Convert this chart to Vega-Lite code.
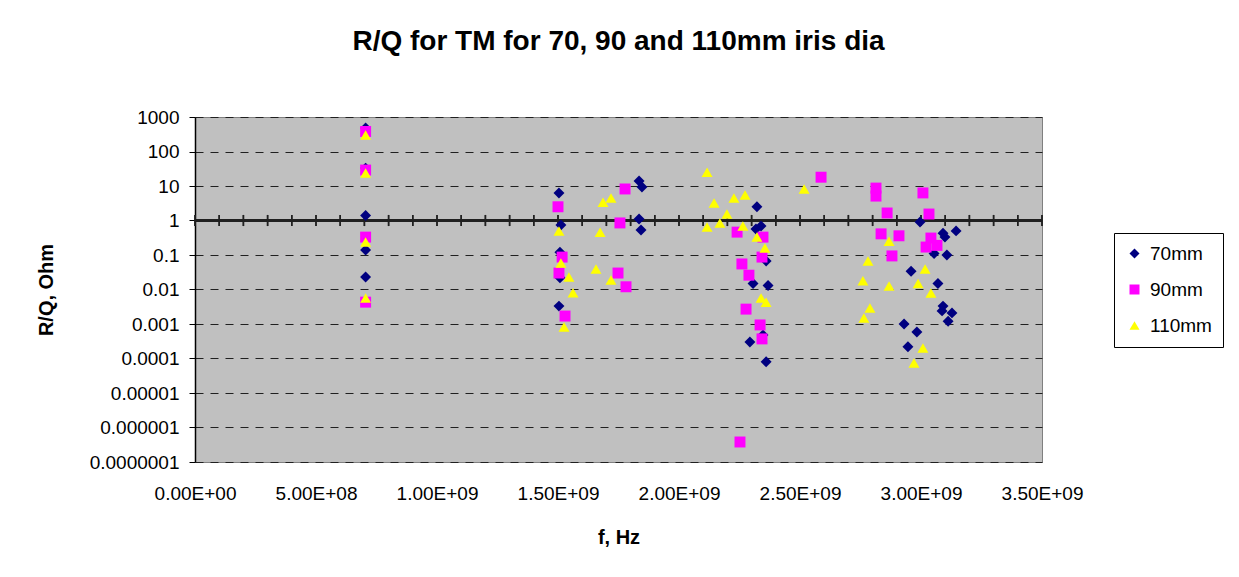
{
  "$schema": "https://vega.github.io/schema/vega-lite/v6.json",
  "width": 847,
  "height": 345,
  "autosize": {"type": "none"},
  "padding": {"left": 195, "top": 117, "right": 197, "bottom": 115},
  "background": "white",
  "title": {
    "text": "R/Q for TM for 70, 90 and 110mm iris dia",
    "font": "Liberation Sans",
    "fontSize": 28,
    "fontWeight": "bold",
    "color": "black",
    "anchor": "middle",
    "frame": "group",
    "baseline": "alphabetic",
    "offset": 30
  },
  "config": {
    "view": {"fill": "#C0C0C0", "stroke": "#808080", "strokeWidth": 1},
    "font": "Liberation Sans"
  },
  "datasets": {
    "ticks": [
      {"t": 0}, {"t": 100000000}, {"t": 200000000}, {"t": 300000000}, {"t": 400000000}, {"t": 500000000},
      {"t": 600000000}, {"t": 700000000}, {"t": 800000000}, {"t": 900000000}, {"t": 1000000000},
      {"t": 1100000000}, {"t": 1200000000}, {"t": 1300000000}, {"t": 1400000000}, {"t": 1500000000},
      {"t": 1600000000}, {"t": 1700000000}, {"t": 1800000000}, {"t": 1900000000}, {"t": 2000000000},
      {"t": 2100000000}, {"t": 2200000000}, {"t": 2300000000}, {"t": 2400000000}, {"t": 2500000000},
      {"t": 2600000000}, {"t": 2700000000}, {"t": 2800000000}, {"t": 2900000000}, {"t": 3000000000},
      {"t": 3100000000}, {"t": 3200000000}, {"t": 3300000000}, {"t": 3400000000}, {"t": 3500000000}
    ],
    "pts": [
      {"f": 705000000, "rq": 480, "s": "70mm"},
      {"f": 705000000, "rq": 33, "s": "70mm"},
      {"f": 705000000, "rq": 1.4, "s": "70mm"},
      {"f": 705000000, "rq": 0.14, "s": "70mm"},
      {"f": 705000000, "rq": 0.023, "s": "70mm"},
      {"f": 1504000000, "rq": 6.3, "s": "70mm"},
      {"f": 1512000000, "rq": 0.74, "s": "70mm"},
      {"f": 1508000000, "rq": 0.12, "s": "70mm"},
      {"f": 1508000000, "rq": 0.022, "s": "70mm"},
      {"f": 1504000000, "rq": 0.0033, "s": "70mm"},
      {"f": 1835000000, "rq": 14, "s": "70mm"},
      {"f": 1847000000, "rq": 9.4, "s": "70mm"},
      {"f": 1835000000, "rq": 1.1, "s": "70mm"},
      {"f": 1843000000, "rq": 0.53, "s": "70mm"},
      {"f": 2322000000, "rq": 2.5, "s": "70mm"},
      {"f": 2339000000, "rq": 0.69, "s": "70mm"},
      {"f": 2318000000, "rq": 0.57, "s": "70mm"},
      {"f": 2360000000, "rq": 0.067, "s": "70mm"},
      {"f": 2306000000, "rq": 0.015, "s": "70mm"},
      {"f": 2368000000, "rq": 0.013, "s": "70mm"},
      {"f": 2347000000, "rq": 0.00048, "s": "70mm"},
      {"f": 2293000000, "rq": 0.0003, "s": "70mm"},
      {"f": 2360000000, "rq": 0.00008, "s": "70mm"},
      {"f": 2996000000, "rq": 0.9, "s": "70mm"},
      {"f": 3091000000, "rq": 0.43, "s": "70mm"},
      {"f": 3099000000, "rq": 0.33, "s": "70mm"},
      {"f": 3145000000, "rq": 0.5, "s": "70mm"},
      {"f": 3054000000, "rq": 0.11, "s": "70mm"},
      {"f": 3107000000, "rq": 0.1, "s": "70mm"},
      {"f": 2959000000, "rq": 0.034, "s": "70mm"},
      {"f": 3070000000, "rq": 0.015, "s": "70mm"},
      {"f": 3091000000, "rq": 0.0033, "s": "70mm"},
      {"f": 3087000000, "rq": 0.0024, "s": "70mm"},
      {"f": 3128000000, "rq": 0.0021, "s": "70mm"},
      {"f": 3112000000, "rq": 0.0012, "s": "70mm"},
      {"f": 2930000000, "rq": 0.001, "s": "70mm"},
      {"f": 2983000000, "rq": 0.00059, "s": "70mm"},
      {"f": 2946000000, "rq": 0.00022, "s": "70mm"},
      {"f": 705000000, "rq": 380, "s": "90mm"},
      {"f": 705000000, "rq": 29, "s": "90mm"},
      {"f": 705000000, "rq": 0.33, "s": "90mm"},
      {"f": 705000000, "rq": 0.0043, "s": "90mm"},
      {"f": 1500000000, "rq": 2.5, "s": "90mm"},
      {"f": 1517000000, "rq": 0.087, "s": "90mm"},
      {"f": 1504000000, "rq": 0.03, "s": "90mm"},
      {"f": 1529000000, "rq": 0.0017, "s": "90mm"},
      {"f": 1748000000, "rq": 0.03, "s": "90mm"},
      {"f": 1781000000, "rq": 0.012, "s": "90mm"},
      {"f": 1756000000, "rq": 0.85, "s": "90mm"},
      {"f": 1777000000, "rq": 8.2, "s": "90mm"},
      {"f": 2587000000, "rq": 18, "s": "90mm"},
      {"f": 2240000000, "rq": 0.46, "s": "90mm"},
      {"f": 2347000000, "rq": 0.33, "s": "90mm"},
      {"f": 2343000000, "rq": 0.087, "s": "90mm"},
      {"f": 2260000000, "rq": 0.055, "s": "90mm"},
      {"f": 2289000000, "rq": 0.026, "s": "90mm"},
      {"f": 2277000000, "rq": 0.0027, "s": "90mm"},
      {"f": 2335000000, "rq": 0.00094, "s": "90mm"},
      {"f": 2343000000, "rq": 0.00037, "s": "90mm"},
      {"f": 2252000000, "rq": 0.00000038, "s": "90mm"},
      {"f": 2814000000, "rq": 8.7, "s": "90mm"},
      {"f": 2814000000, "rq": 5.1, "s": "90mm"},
      {"f": 3008000000, "rq": 6.3, "s": "90mm"},
      {"f": 2860000000, "rq": 1.65, "s": "90mm"},
      {"f": 3033000000, "rq": 1.54, "s": "90mm"},
      {"f": 2835000000, "rq": 0.41, "s": "90mm"},
      {"f": 2909000000, "rq": 0.36, "s": "90mm"},
      {"f": 3041000000, "rq": 0.31, "s": "90mm"},
      {"f": 3021000000, "rq": 0.17, "s": "90mm"},
      {"f": 3066000000, "rq": 0.19, "s": "90mm"},
      {"f": 2880000000, "rq": 0.094, "s": "90mm"},
      {"f": 705000000, "rq": 300, "s": "110mm"},
      {"f": 705000000, "rq": 24, "s": "110mm"},
      {"f": 705000000, "rq": 0.24, "s": "110mm"},
      {"f": 705000000, "rq": 0.0057, "s": "110mm"},
      {"f": 1504000000, "rq": 0.5, "s": "110mm"},
      {"f": 1512000000, "rq": 0.059, "s": "110mm"},
      {"f": 1545000000, "rq": 0.023, "s": "110mm"},
      {"f": 1562000000, "rq": 0.008, "s": "110mm"},
      {"f": 1525000000, "rq": 0.00082, "s": "110mm"},
      {"f": 1674000000, "rq": 0.46, "s": "110mm"},
      {"f": 1657000000, "rq": 0.039, "s": "110mm"},
      {"f": 1686000000, "rq": 3.4, "s": "110mm"},
      {"f": 1719000000, "rq": 4.5, "s": "110mm"},
      {"f": 1719000000, "rq": 0.019, "s": "110mm"},
      {"f": 2116000000, "rq": 25, "s": "110mm"},
      {"f": 2517000000, "rq": 8.2, "s": "110mm"},
      {"f": 2145000000, "rq": 3.2, "s": "110mm"},
      {"f": 2227000000, "rq": 4.5, "s": "110mm"},
      {"f": 2273000000, "rq": 5.5, "s": "110mm"},
      {"f": 2198000000, "rq": 1.54, "s": "110mm"},
      {"f": 2169000000, "rq": 0.85, "s": "110mm"},
      {"f": 2116000000, "rq": 0.65, "s": "110mm"},
      {"f": 2264000000, "rq": 0.69, "s": "110mm"},
      {"f": 2322000000, "rq": 0.33, "s": "110mm"},
      {"f": 2355000000, "rq": 0.16, "s": "110mm"},
      {"f": 2339000000, "rq": 0.0057, "s": "110mm"},
      {"f": 2360000000, "rq": 0.0043, "s": "110mm"},
      {"f": 2868000000, "rq": 0.25, "s": "110mm"},
      {"f": 2781000000, "rq": 0.067, "s": "110mm"},
      {"f": 3017000000, "rq": 0.039, "s": "110mm"},
      {"f": 2760000000, "rq": 0.018, "s": "110mm"},
      {"f": 2868000000, "rq": 0.0126, "s": "110mm"},
      {"f": 2988000000, "rq": 0.015, "s": "110mm"},
      {"f": 3041000000, "rq": 0.0079, "s": "110mm"},
      {"f": 2789000000, "rq": 0.0029, "s": "110mm"},
      {"f": 2764000000, "rq": 0.0015, "s": "110mm"},
      {"f": 3008000000, "rq": 0.0002, "s": "110mm"},
      {"f": 2971000000, "rq": 0.000074, "s": "110mm"}
    ]
  },
  "layer": [
    {
      "data": {"name": "pts"},
      "mark": {"type": "point", "filled": true, "opacity": 0, "size": 120, "strokeWidth": 0},
      "encoding": {
        "x": {
          "field": "f",
          "type": "quantitative",
          "scale": {"domain": [0, 3500000000], "nice": false, "zero": false},
          "axis": {
            "orient": "bottom",
            "values": [0, 500000000, 1000000000, 1500000000, 2000000000, 2500000000, 3000000000, 3500000000],
            "labelExpr": "replace(upper(format(datum.value, '.2e')), 'E+', 'E+0')",
            "domain": false,
            "ticks": false,
            "grid": false,
            "labelPadding": 22,
            "labelFontSize": 19,
            "labelColor": "black",
            "labelFont": "Liberation Sans",
            "labelFlush": false,
            "labelOverlap": false,
            "title": "f, Hz",
            "titleFontSize": 20,
            "titleFontWeight": "bold",
            "titleColor": "black",
            "titleFont": "Liberation Sans",
            "titlePadding": 24
          }
        },
        "y": {
          "field": "rq",
          "type": "quantitative",
          "scale": {"type": "log", "domain": [0.0000001, 1000], "nice": false},
          "axis": {
            "orient": "left",
            "values": [0.0000001, 0.000001, 0.00001, 0.0001, 0.001, 0.01, 0.1, 1, 10, 100, 1000],
            "format": ".7~f",
            "domain": true,
            "domainColor": "black",
            "domainWidth": 1.5,
            "ticks": true,
            "tickSize": 6,
            "tickColor": "black",
            "labelPadding": 10,
            "labelFontSize": 19,
            "labelColor": "black",
            "labelFont": "Liberation Sans",
            "labelFlush": false,
            "labelOverlap": false,
            "grid": true,
            "gridColor": "#202020",
            "gridDash": [8, 7],
            "gridWidth": 1,
            "title": "R/Q, Ohm",
            "titleFontSize": 20,
            "titleFontWeight": "bold",
            "titleColor": "black",
            "titleFont": "Liberation Sans",
            "titlePadding": 33
          }
        },
        "color": {
          "field": "s",
          "type": "nominal",
          "scale": {"domain": ["70mm", "90mm", "110mm"], "range": ["#000080", "#FF00FF", "#FFFF00"]},
          "legend": {
            "title": null,
            "orient": "none",
            "legendX": 919,
            "legendY": 116,
            "strokeColor": "black",
            "fillColor": "white",
            "padding": 11,
            "rowPadding": 16,
            "labelFontSize": 19,
            "labelFont": "Liberation Sans",
            "labelColor": "black",
            "labelOffset": 6,
            "symbolSize": 100,
            "symbolOpacity": 1,
            "symbolStrokeWidth": 0
          }
        },
        "shape": {
          "field": "s",
          "type": "nominal",
          "scale": {"domain": ["70mm", "90mm", "110mm"], "range": ["diamond", "square", "triangle-up"]},
          "legend": {
            "title": null,
            "orient": "none",
            "legendX": 919,
            "legendY": 116,
            "strokeColor": "black",
            "fillColor": "white",
            "padding": 11,
            "rowPadding": 16,
            "labelFontSize": 19,
            "labelFont": "Liberation Sans",
            "labelColor": "black",
            "labelOffset": 6,
            "symbolSize": 100,
            "symbolOpacity": 1,
            "symbolStrokeWidth": 0
          }
        }
      }
    },
    {
      "data": {"name": "ticks"},
      "mark": {"type": "rule", "color": "#202020", "strokeWidth": 1.5},
      "encoding": {
        "y": {"datum": 1, "type": "quantitative"}
      }
    },
    {
      "data": {"name": "ticks"},
      "mark": {"type": "rule", "color": "#202020", "strokeWidth": 1.5},
      "encoding": {
        "x": {"field": "t", "type": "quantitative"},
        "y": {"datum": 0.69, "type": "quantitative"},
        "y2": {"datum": 1.45}
      }
    },
    {
      "data": {"name": "ticks"},
      "mark": {"type": "point", "shape": "M0,-1L0,1", "filled": false, "stroke": "#202020", "strokeWidth": 1.5, "opacity": 1, "size": 121},
      "encoding": {
        "x": {"field": "t", "type": "quantitative"},
        "y": {"datum": 1, "type": "quantitative"}
      }
    },
    {
      "data": {"name": "pts"},
      "mark": {"type": "point", "filled": true, "opacity": 1, "size": 120, "strokeWidth": 0},
      "encoding": {
        "x": {"field": "f", "type": "quantitative"},
        "y": {"field": "rq", "type": "quantitative"},
        "color": {"field": "s", "type": "nominal"},
        "shape": {"field": "s", "type": "nominal"}
      }
    }
  ]
}
